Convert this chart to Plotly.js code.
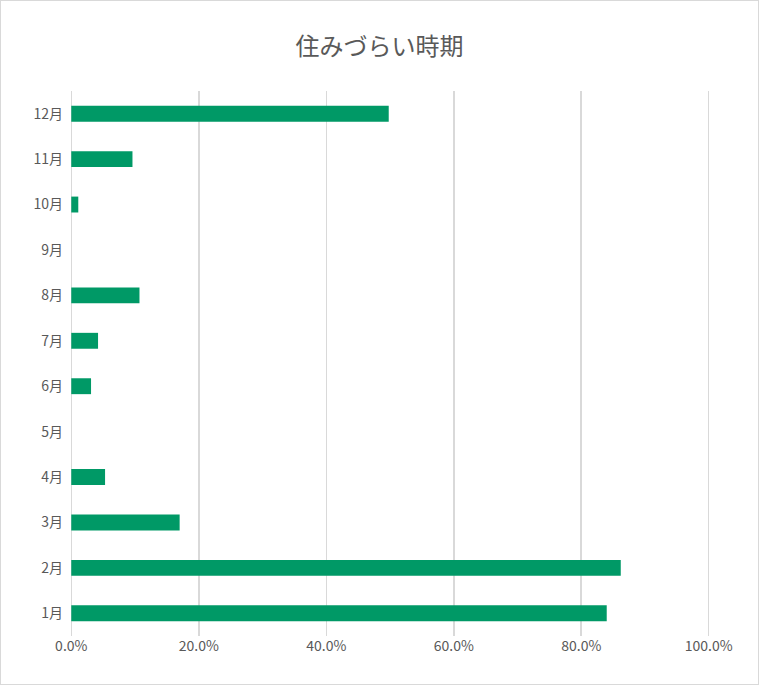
<!DOCTYPE html>
<html>
<head>
<meta charset="utf-8">
<script src="https://cdn.plot.ly/plotly-3.0.1.min.js"></script>
<style>
  body { margin: 0; background: #fff; }
  #chart { width: 757px; height: 683px; border: 1px solid #d9d9d9; }
</style>
</head>
<body>
<div id="chart"></div>
<script>
// months bottom to top, share of respondents (fraction)
const months = ['1月', '2月', '3月', '4月', '5月', '6月', '7月', '8月', '9月', '10月', '11月', '12月'];
const shares = [0.840, 0.862, 0.170, 0.053, 0, 0.031, 0.042, 0.107, 0, 0.011, 0.096, 0.498];
const xTicks = [0, 0.2, 0.4, 0.6, 0.8, 1.0];

const font = 'Noto Sans CJK JP, sans-serif';

Plotly.newPlot('chart', [{
  type: 'bar',
  orientation: 'h',
  x: shares,
  y: months,
  marker: { color: '#009966' },
  width: 0.35,
  hoverinfo: 'skip'
}], {
  width: 757,
  height: 683,
  margin: { l: 69, r: 48, t: 90, b: 48 },
  paper_bgcolor: '#fff',
  plot_bgcolor: '#fff',
  font: { family: font, color: '#595959', size: 14 },
  title: { text: '住みづらい時期', x: 0.5, y: 0.945, font: { size: 24, color: '#595959', family: font } },
  xaxis: {
    range: [-0.002, 1.002],
    tickvals: xTicks,
    tickformat: '.1%',
    showgrid: true,
    gridcolor: '#d9d9d9',
    gridwidth: 1.5,
    zeroline: false,
    ticks: '',
    showline: false,
    fixedrange: true
  },
  yaxis: {
    type: 'category',
    categoryorder: 'array',
    categoryarray: months,
    showgrid: false,
    zeroline: false,
    showline: false,
    ticks: '',
    ticklabelstandoff: 6
  },
  showlegend: false,
  bargap: 0.6
}, { displayModeBar: false, staticPlot: true });
</script>
</body>
</html>
